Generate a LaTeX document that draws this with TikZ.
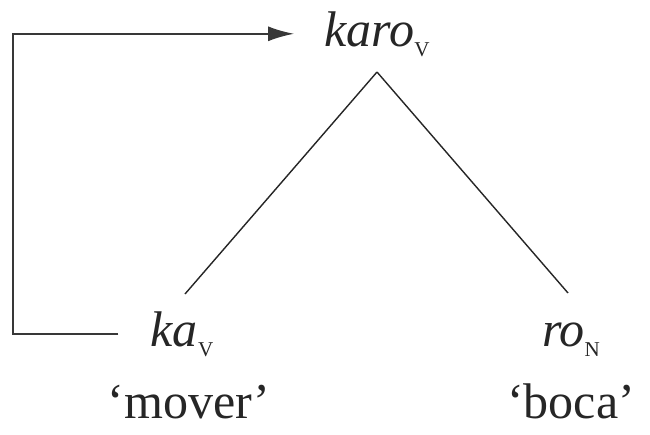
\documentclass[tikz,border=0pt]{standalone}
\usepackage{fontspec}
\setmainfont{Liberation Serif}
\usepackage{tikz}
\usetikzlibrary{arrows.meta,positioning}
\colorlet{ink}{black!85}
\colorlet{bracketInk}{black!78}
\tikzset{
  word/.style={inner sep=0pt, anchor=base, font=\fontsize{28.5}{34}\selectfont, text=ink},
  gloss/.style={inner sep=0pt, anchor=base, font=\fontsize{28.5}{34}\selectfont, text=ink},
  branch/.style={draw=ink, line width=0.8pt},
  loop/.style={-{Latex[length=0.52cm,width=0.3cm]}, draw=bracketInk, line width=1.1pt}
}
\newcommand{\catsub}[1]{\raisebox{-0.2em}{\fontsize{12}{12}\selectfont #1}}

\begin{document}
\begin{tikzpicture}[x=1cm,y=1cm]
  \useasboundingbox (0,0) rectangle (13,8.68);

  \node[word] (karo) at (7.54,7.76) {\textit{karo}\catsub{V}};
  \node[word] (ka) at (3.64,1.76) {\textit{ka}\catsub{V}};
  \node[word] (ro) at (11.42,1.76) {\textit{ro}\catsub{N}};

  \node[gloss] (mover) at (3.78,0.32) {`mover'};
  \node[gloss] (boca) at (11.42,0.32) {`boca'};

  \draw[branch] ([yshift=-0.52cm]karo.base) -- ([xshift=0.06cm,yshift=1.04cm]ka.base);
  \draw[branch] ([yshift=-0.52cm]karo.base) -- ([xshift=-0.06cm,yshift=1.06cm]ro.base);

  \coordinate (bend) at (0.26,0);
  \draw[loop, shorten <=0.64cm, shorten >=0.6cm] (ka.west) -- (ka.west -| bend) |- (karo.west);
\end{tikzpicture}
\end{document}
